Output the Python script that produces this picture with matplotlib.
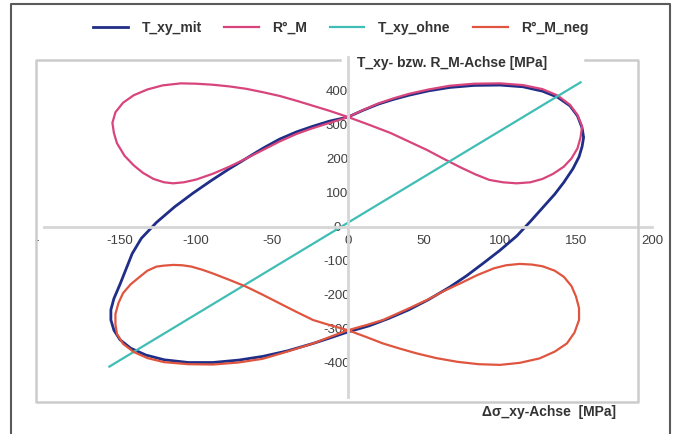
import matplotlib.pyplot as plt
from matplotlib.lines import Line2D

plt.rcParams['font.family'] = ['Liberation Sans', 'DejaVu Sans']
plt.rcParams['axes.unicode_minus'] = False

# T_xy with coupling (closed ellipse), values in MPa
t_mit_x = [0, 10, 20, 30, 40, 53, 67, 83, 100, 115, 128, 138, 146, 151, 154, 155, 154, 152, 148, 142,
           136, 128, 120, 111, 100, 89, 78, 67, 53, 40, 27, 14, 0,
           -12, -23, -40, -56, -72, -89, -105, -121, -133, -143, -150, -154, -156, -156, -154, -150, -146,
           -142, -136, -126, -114, -102, -90, -78, -67, -56, -45, -34, -23, -12, 0]
t_mit_y = [322, 342, 360, 374, 386, 399, 409, 415, 416, 411, 398, 380, 355, 325, 290, 262, 235, 205, 170, 130,
           95, 55, 15, -28, -70, -108, -145, -178, -215, -245, -270, -292, -310,
           -328, -344, -366, -382, -393, -400, -400, -392, -378, -358, -333, -305, -275, -245, -212, -170, -125,
           -80, -35, 12, 58, 98, 135, 170, 200, 230, 257, 278, 295, 310, 322]

# R°_M, figure eight above the x axis
r_m_x = [0, 10, 20, 30, 40, 53, 67, 83, 100, 115, 128, 138, 146, 151, 154, 153, 151, 147, 142, 135,
         128, 120, 111, 102, 93, 84, 74, 63, 52, 40, 28, 14, 0,
         -12, -23, -34, -45, -56, -67, -78, -89, -100, -110, -122, -132, -141, -148, -153, -155, -154, -152,
         -147, -141, -135, -128, -121, -115, -108, -100, -89, -78, -67, -56, -45, -34, -24, -12, 0]
r_m_y = [322, 343, 362, 377, 390, 403, 414, 420, 421, 416, 404, 385, 358, 328, 295, 262, 230, 200, 176, 155,
         140, 130, 127, 130, 137, 153, 174, 199, 225, 250, 275, 299, 322,
         340, 355, 370, 384, 395, 405, 412, 417, 420, 421, 415, 403, 386, 364, 336, 305, 275, 245,
         208, 180, 158, 140, 130, 127, 130, 138, 155, 176, 200, 225, 250, 272, 288, 305, 322]

# T_xy without coupling
t_ohne_x = [-157, 153]
t_ohne_y = [-412, 424]

# R°_M_neg, figure eight below the x axis
r_m_neg_x = [0, -12, -23, -34, -45, -56, -67, -78, -89, -96, -103, -109, -115, -121, -126, -132, -137, -143,
             -148, -151, -153, -153, -152, -148, -141, -132, -121, -105, -89, -72, -56, -40, -23, -12, 0,
             12, 23, 38, 52, 63, 74, 85, 96, 104, 113, 121, 128, 136, 142, 147, 150, 152, 152, 149,
             144, 136, 126, 113, 100, 86, 72, 58, 45, 34, 23, 12, 0]
r_m_neg_y = [-305, -290, -275, -251, -226, -201, -177, -157, -138, -127, -118, -114, -113, -115, -118, -130, -148, -170,
             -196, -225, -257, -288, -316, -345, -369, -387, -399, -405, -406, -400, -389, -368, -344, -325, -305,
             -290, -275, -245, -216, -190, -167, -143, -123, -114, -110, -112, -117, -130, -148, -175, -206, -240, -275, -312,
             -344, -368, -388, -401, -407, -405, -398, -387, -373, -359, -344, -325, -305]

x_ticks = [-150, -100, -50, 0, 50, 100, 150, 200]
y_ticks = [-400, -300, -200, -100, 0, 100, 200, 300, 400]

W, H = 675, 434
fig = plt.figure(figsize=(6.75, 4.34), dpi=100)


def fig_line(xs, ys, color, lw):
    # pixel coordinates (origin top left) -> figure line
    fig.add_artist(Line2D([x / W for x in xs], [1 - y / H for y in ys],
                          transform=fig.transFigure, color=color, lw=lw))


# outer border and plot frame (frame has a gap for the axis title)
fig_line([11, 11, 670, 670], [434, 4, 4, 434], '#5a5a5a', 1.5)
fig_line([340, 36, 36, 638, 638, 585], [60, 60, 402, 402, 60, 60], '#cccccc', 1.8)

ax = fig.add_axes([44 / W, 1 - 396.5 / H, 608 / W, 340 / H])
ax.patch.set_alpha(0)

ax.plot(t_mit_x, t_mit_y, color='#1f2e86', lw=2.0, label='T_xy_mit')
ax.plot(r_m_x, r_m_y, color='#d8457c', lw=1.6, label='R°_M')
ax.plot(t_ohne_x, t_ohne_y, color='#40bdb5', lw=1.6, label='T_xy_ohne')
ax.plot(r_m_neg_x, r_m_neg_y, color='#e0553f', lw=1.6, label='R°_M_neg')

ax.set_xlim(-200, 200)
ax.set_ylim(-500, 500)
for side in ['top', 'right']:
    ax.spines[side].set_visible(False)
for side in ['left', 'bottom']:
    ax.spines[side].set_position(('data', 0))
    ax.spines[side].set_color('#d6d6d6')
    ax.spines[side].set_linewidth(2)

ax.set_xticks(x_ticks)
ax.set_yticks(y_ticks)
ax.tick_params(length=0, labelsize=9.5, labelcolor='#404040')
ax.tick_params(axis='x', pad=6)
ax.tick_params(axis='y', pad=8)
for lbl in ax.get_yticklabels():
    lbl.set_horizontalalignment('center')
ax.text(-205, -24, '-', ha='center', va='top', fontsize=9.5, color='#404040')

fig.text(452 / W, 1 - 63 / H, 'T_xy- bzw. R_M-Achse [MPa]', ha='center', va='center',
         fontsize=10, fontweight='bold', color='#333333')
fig.text(549 / W, 1 - 412 / H, 'Δσ_xy-Achse  [MPa]', ha='center', va='center',
         fontsize=10, fontweight='bold', color='#333333')

fig.legend(loc='center', bbox_to_anchor=(341 / W, 1 - 28 / H), ncol=4, frameon=False,
           handlelength=2.5, handletextpad=1.0, columnspacing=1.6,
           prop={'size': 10, 'weight': 'bold'}, labelcolor='#333333')

fig.savefig('out.png', dpi=100)
